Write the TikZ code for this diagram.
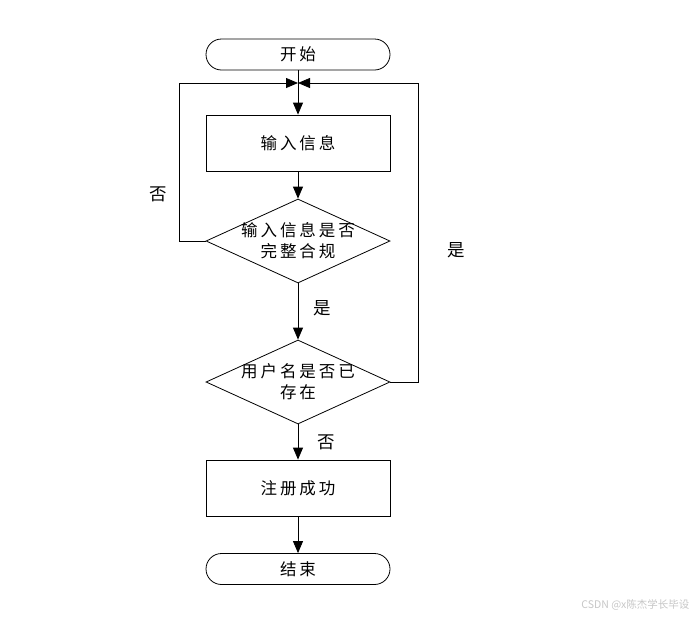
\documentclass[tikz,border=0pt]{standalone}
\usepackage{fontspec}
\newfontfamily\cjk[LetterSpace=18]{Noto Sans CJK SC}
\newfontfamily\cjkplain{Noto Sans CJK SC}
\usetikzlibrary{arrows.meta,shapes.geometric}
\tikzset{
    flow/.style={line width=0.8pt, -{Triangle[length=12pt,width=10pt]}},
    plainline/.style={line width=0.8pt},
    terminal/.style={draw, line width=0.8pt, rectangle, rounded corners=15.5pt, minimum width=184pt, minimum height=31pt, inner sep=0pt, font=\cjk\fontsize{16.5}{18}\selectfont},
    process/.style={draw, line width=0.8pt, rectangle, minimum width=184pt, minimum height=56pt, inner sep=0pt, font=\cjk\fontsize{16.5}{18}\selectfont},
    decision/.style={draw, line width=0.8pt, diamond, minimum width=184pt, minimum height=84pt, inner sep=0pt},
    decisiontext/.style={align=center, font=\cjk\fontsize{16.5}{21}\selectfont},
    branch/.style={font=\cjkplain\fontsize{17.5}{20}\selectfont}
}
\begin{document}
\begin{tikzpicture}[x=1pt, y=-1pt]
        \useasboundingbox (0,0) rectangle (699,619);
        \node[terminal] (start) at (298,54.5) {开始};
        \coordinate (merge) at (298,83);
        \node[process] (input) at (298,143) {输入信息};
        \node[decision, label={[decisiontext]center:输入信息是否\\完整合规}] (check) at (298,241) {};
        \node[decision, label={[decisiontext]center:用户名是否已\\存在}] (exists) at (298,382) {};
        \node[process] (success) at (298,488) {注册成功};
        \node[terminal] (stop) at (298,569) {结束};
        % main flow
        \draw[plainline] (start) -- (merge);
        \draw[flow] (merge) -- (input);
        \draw[flow] (input) -- (check);
        \draw[flow] (check) -- (exists);
        \draw[flow] (exists) -- (success);
        \draw[flow] (success) -- (stop);
        % loops back to the top
        \draw[flow] (check.west) -- (179,241) |- (merge);
        \draw[flow] (exists.east) -- (418,382) |- (merge);
        \node[branch] (no1) at (158,194) {否};
        \node[branch] (yes1) at (322,308) {是};
        \node[branch] (yes2) at (456,250) {是};
        \node[branch] (no2) at (326,442) {否};
        \node[font=\cjkplain\fontsize{10.5}{12}\selectfont, text=gray!45, anchor=east] (mark) at (693,605) {CSDN @x陈杰学长毕设};
    \end{tikzpicture}
\end{document}
